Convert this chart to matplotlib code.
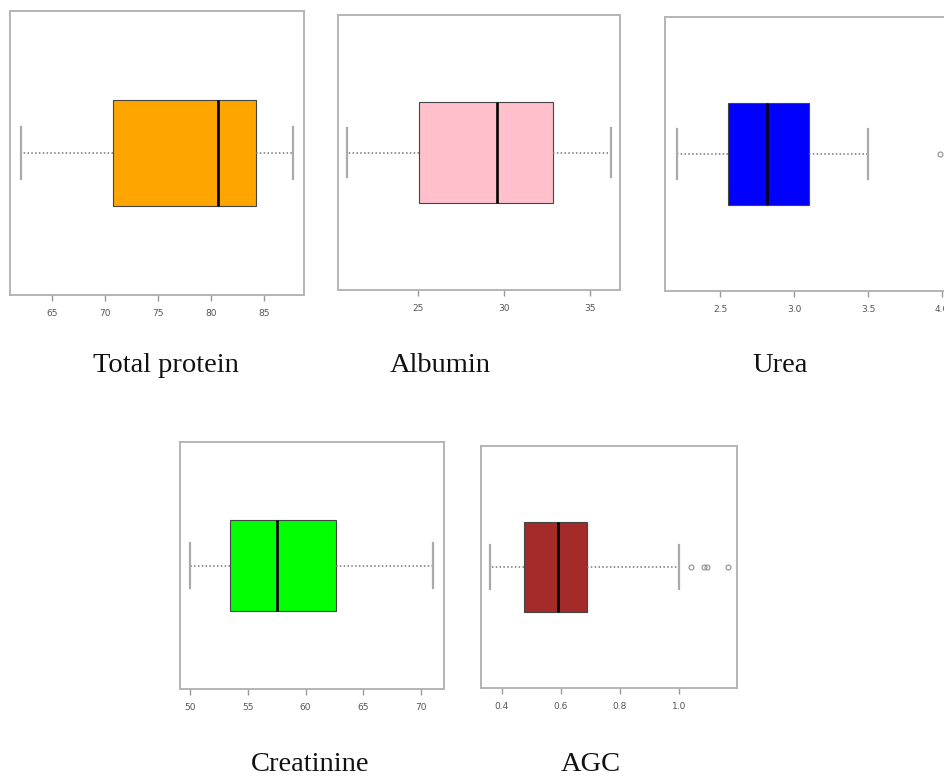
import matplotlib
matplotlib.use("Agg")
from matplotlib import pyplot as plt

W, H = 944, 776

# five-number summaries
names = ["Total protein", "Albumin", "Urea", "Creatinine", "AGC"]
colors = ["#FFA500", "#FFC0CB", "#0000FF", "#00FF00", "#A52A2A"]
whislo = [62.1, 20.9, 2.21, 50.0, 0.36]
q1 = [70.75, 25.05, 2.555, 53.5, 0.475]
med = [80.65, 29.6, 2.82, 57.5, 0.59]
q3 = [84.25, 32.85, 3.10, 62.6, 0.69]
whishi = [87.75, 36.2, 3.50, 71.0, 1.0]
fliers = [[], [], [3.99], [], [1.04, 1.085, 1.095, 1.165]]
ticks = [[65, 70, 75, 80, 85], [25, 30, 35], [2.5, 3.0, 3.5, 4.0],
         [50, 55, 60, 65, 70], [0.4, 0.6, 0.8, 1.0]]
ticklabels = [["65", "70", "75", "80", "85"], ["25", "30", "35"],
              ["2.5", "3.0", "3.5", "4.0"], ["50", "55", "60", "65", "70"],
              ["0.4", "0.6", "0.8", "1.0"]]
xlims = [(61.04, 88.77), (20.35, 36.74), (2.128, 4.034), (49.13, 71.99), (0.329, 1.197)]

# frame boxes in pixels: left, top, right, bottom
frames = [(10, 11, 304, 295), (338, 15, 620, 290), (665, 17, 947, 291),
          (180, 442, 444, 689), (481, 446, 737, 688)]
label_pos = [(166, 372), (440, 372), (780, 372), (310, 771), (591, 771)]

fig = plt.figure(figsize=(W / 100, H / 100), dpi=100)

for i in range(5):
    l, t, r, b = frames[i]
    ax = fig.add_axes([l / W, 1 - b / H, (r - l) / W, (b - t) / H])
    stats = [dict(whislo=whislo[i], q1=q1[i], med=med[i], q3=q3[i],
                  whishi=whishi[i], fliers=fliers[i])]
    ax.bxp(stats, positions=[0.5], widths=0.37, capwidths=0.18, vert=False,
           patch_artist=True, manage_ticks=False,
           boxprops=dict(facecolor=colors[i], edgecolor="#444444", linewidth=0.8),
           medianprops=dict(color="black", linewidth=1.9),
           whiskerprops=dict(color="#777777", linewidth=1.1, linestyle=(0, (1, 1.5))),
           capprops=dict(color="#aaaaaa", linewidth=1.6),
           flierprops=dict(marker="o", markersize=3.5, markerfacecolor="none",
                           markeredgecolor="#999999", markeredgewidth=0.9))
    ax.set_ylim(0, 1)
    ax.set_xlim(*xlims[i])
    ax.set_yticks([])
    ax.set_xticks(ticks[i])
    ax.set_xticklabels(ticklabels[i])
    ax.tick_params(axis="x", length=4, width=1, color="#999999", pad=6,
                   labelsize=6.5, labelcolor="#555555")
    for s in ax.spines.values():
        s.set_color("#b4b4b4")
        s.set_linewidth(1.4)
    x, y = label_pos[i]
    fig.text(x / W, 1 - y / H, names[i], ha="center", va="baseline",
             fontsize=20.5, family=["Liberation Serif", "DejaVu Serif"], color="#111111")

fig.savefig("out.png", dpi=100)
